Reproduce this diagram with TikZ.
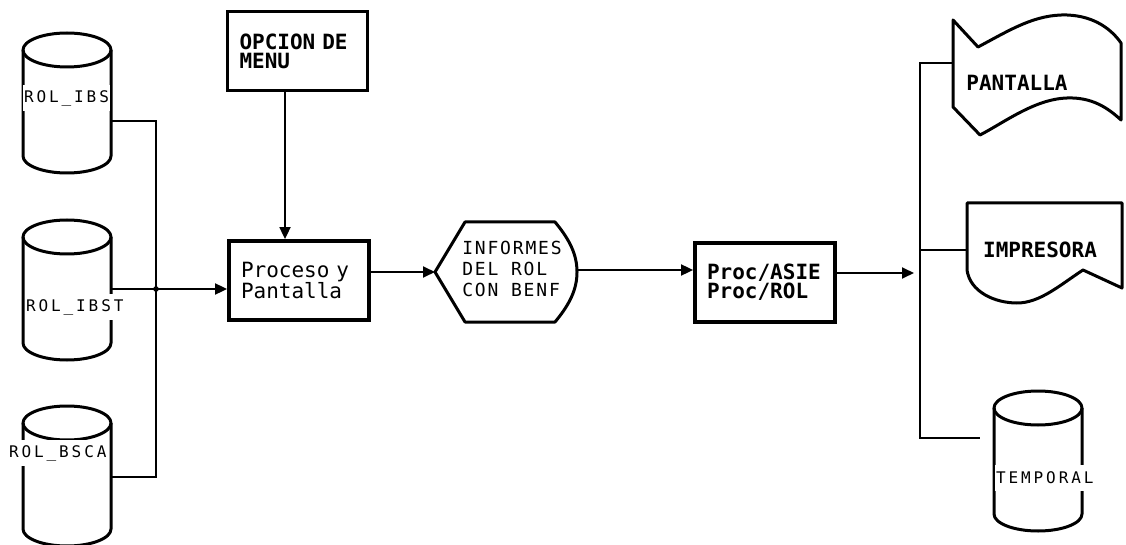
\documentclass[tikz,border=0pt]{standalone}
\usepackage{fontspec}
\usepackage{tikz}
\usetikzlibrary{arrows.meta, positioning, calc}
\newfontfamily\dgmfont{DejaVu Sans Mono}
\newfontfamily\lblfont[LetterSpace=18]{DejaVu Sans Mono}
\newfontfamily\hexfont[LetterSpace=10]{DejaVu Sans Mono}
\tikzset{
  proc/.style={draw, line width=3.8pt, minimum width=140pt, minimum height=79pt, inner sep=0pt, text width=116pt, align=left, font=\dgmfont\fontsize{21}{20}\selectfont},
  boldtext/.style={font=\dgmfont\bfseries\fontsize{21}{19}\selectfont},
  cyllabel/.style={anchor=west, fill=white, inner xsep=1pt, inner ysep=0pt, minimum height=26pt, font=\lblfont\fontsize{16}{16}\selectfont},
  symline/.style={line width=3pt, line join=round},
  link/.style={line width=1.8pt},
  arrow/.style={-{Triangle[length=12pt, width=11pt]}, line width=1.8pt},
  dbcyl/.pic={
    \draw[symline] (0,0) ellipse [x radius=44pt, y radius=17pt];
    \draw[symline] (-44,0) -- (-44,106) arc [start angle=180, end angle=360, x radius=44pt, y radius=17pt] -- (44,0);
  }
}

\begin{document}
\begin{tikzpicture}[x=1pt, y=-1pt]
    \useasboundingbox (0,0) rectangle (1126,545);

    \pic at (67,50) {dbcyl};
    \pic at (67,237) {dbcyl};
    \pic at (67,423) {dbcyl};
    \pic at (1038,408) {dbcyl};
    \node[cyllabel] (ibs) at (23,98) {ROL\_IBS};
    \node[cyllabel] (ibst) at (25,307) {ROL\_IBST};
    \node[cyllabel] (bsca) at (8,453) {ROL\_BSCA};
    \node[cyllabel] (tmp) at (995,478) {TEMPORAL};

    \node[proc, boldtext] (opc) at (297.5,51) {OPCION DE\\MENU};
    \node[proc] (pro) at (299,280.5) {Proceso y\\Pantalla};
    \node[proc, boldtext] (asie) at (765,282.5) {Proc/ASIE\\Proc/ROL};

    \draw[symline] (435,272) -- (465,222) -- (555,222) .. controls (570,240) and (577,255) .. (577,272) .. controls (577,289) and (570,304) .. (555,322) -- (465,322) -- cycle;
    \node[font=\hexfont\fontsize{18}{21}\selectfont, align=left, inner sep=0pt] (inf) at (512,269) {INFORMES\\DEL ROL\\CON BENF};

    \draw[symline] (953,20) -- (978,47) .. controls (1010,30) and (1035,14) .. (1067,15) .. controls (1095,16) and (1112,30) .. (1121,43) -- (1121,120) .. controls (1108,108) and (1092,97) .. (1067,98) .. controls (1035,99) and (1005,122) .. (980,135) -- (953,107) -- cycle;
    \node[boldtext] (pan) at (1017,83) {PANTALLA};

    \draw[symline] (967,203) -- (1122,203) -- (1122,288) -- (1083,270) .. controls (1060,285) and (1040,303) .. (1017,303) .. controls (995,303) and (970,292) .. (967,270) -- cycle;
    \node[boldtext] (imp) at (1040,250) {IMPRESORA};

    \coordinate (ibs-e) at (111,121);
    \coordinate (ibst-e) at (111,289);
    \coordinate (bsca-e) at (111,477);
    \coordinate (jn) at (156,289);
    \coordinate (inf-w) at (435,272);
    \coordinate (inf-e) at (577,270);
    \coordinate (busR) at (920,273);
    \coordinate (pan-w) at (953,63);
    \coordinate (imp-w) at (967,250);
    \coordinate (tmp-w) at (980,438);

    \draw[link] (ibs-e) -| (bsca-e -| jn) -- (bsca-e);
    \draw[link] (ibst-e) -- (jn);
    \fill (jn) circle [radius=2.8pt];
    \draw[arrow] (jn) -- (jn -| pro.west);
    \draw[arrow] ([xshift=-12.5pt]opc.south) -- ([xshift=-14pt]pro.north);
    \draw[arrow] (inf-w -| pro.east) -- (inf-w);
    \draw[arrow] (inf-e) -- (inf-e -| asie.west);
    \draw[arrow] (busR -| asie.east) -- ([xshift=-6pt]busR);
    \draw[link] (pan-w) -| (tmp-w -| busR) -- (tmp-w);
    \draw[link] (imp-w) -- (imp-w -| busR);
\end{tikzpicture}
\end{document}
